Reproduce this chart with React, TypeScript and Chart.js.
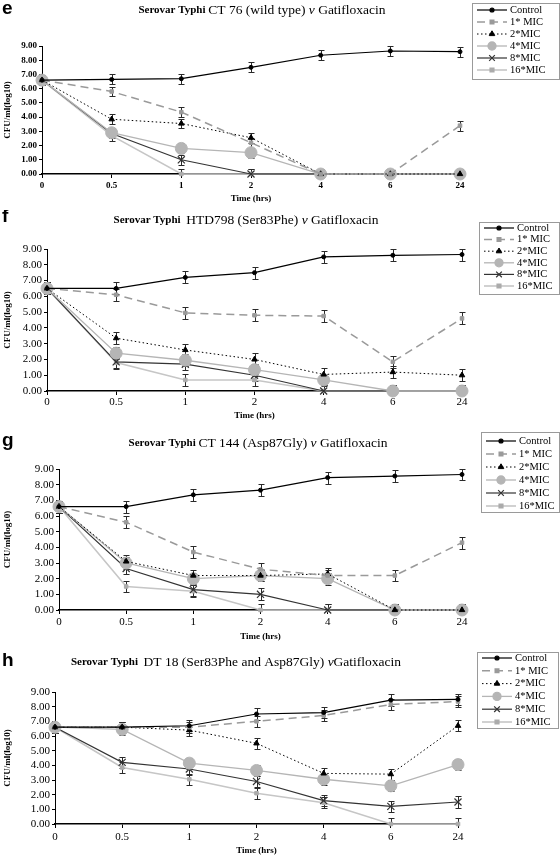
import React, { useEffect, useRef } from 'react';
import { Chart, registerables } from 'chart.js';
import { drawPoint } from 'chart.js/helpers';

Chart.register(...registerables);

// ---------- data ----------
const TIME_LABELS = ['0', '0.5', '1', '2', '4', '6', '24'];
const SERIES_LABELS = ['Control', '1* MIC', '2*MIC', '4*MIC', '8*MIC', '16*MIC'];
const Y_MIN = 0;
const Y_MAX = 9;

const E_CONTROL = [6.6, 6.65, 6.7, 7.5, 8.35, 8.65, 8.6];
const E_MIC1 = [6.6, 5.8, 4.35, 2.2, 0, 0, 3.4];
const E_MIC2 = [6.6, 3.85, 3.55, 2.55, 0, 0, 0];
const E_MIC4 = [6.6, 2.9, 1.8, 1.5, 0, 0, 0];
const E_MIC8 = [6.6, 2.85, 1.0, 0, 0, 0, 0];
const E_MIC16 = [6.6, 2.7, 0, 0, 0, 0, 0];
const E_ERR = 0.35;

const F_CONTROL = [6.5, 6.5, 7.2, 7.5, 8.5, 8.6, 8.65];
const F_MIC1 = [6.5, 6.1, 4.95, 4.8, 4.75, 1.85, 4.6];
const F_MIC2 = [6.5, 3.35, 2.6, 2.0, 1.05, 1.2, 1.0];
const F_MIC4 = [6.5, 2.4, 1.95, 1.35, 0.7, 0, 0];
const F_MIC8 = [6.5, 1.85, 1.7, 1.0, 0, 0, 0];
const F_MIC16 = [6.5, 1.8, 0.7, 0.7, 0, 0, 0];
const F_ERR = 0.38;

const G_CONTROL = [6.6, 6.6, 7.35, 7.65, 8.45, 8.55, 8.65];
const G_MIC1 = [6.6, 5.6, 3.7, 2.6, 2.2, 2.2, 4.3];
const G_MIC2 = [6.6, 3.1, 2.2, 2.2, 2.3, 0, 0];
const G_MIC4 = [6.6, 3.0, 2.0, 2.2, 2.0, 0, 0];
const G_MIC8 = [6.6, 2.65, 1.3, 1.0, 0, 0, 0];
const G_MIC16 = [6.6, 1.5, 1.2, 0, 0, 0, 0];
const G_ERR = 0.38;

const H_CONTROL = [6.6, 6.6, 6.7, 7.5, 7.6, 8.45, 8.5];
const H_MIC1 = [6.6, 6.6, 6.6, 7.0, 7.4, 8.15, 8.35];
const H_MIC2 = [6.6, 6.6, 6.4, 5.5, 3.45, 3.4, 6.7];
const H_MIC4 = [6.6, 6.45, 4.15, 3.65, 3.05, 2.6, 4.05];
const H_MIC8 = [6.6, 4.2, 3.75, 2.9, 1.6, 1.2, 1.5];
const H_MIC16 = [6.6, 3.85, 3.05, 2.1, 1.45, 0, 0];
const H_ERR = 0.38;

const E_TITLE = ['Serovar Typhi ', 'CT 76 (wild type) ', 'v', ' Gatifloxacin'];
const F_TITLE = ['Serovar Typhi  ', 'HTD798 (Ser83Phe) ', 'v', ' Gatifloxacin'];
const G_TITLE = ['Serovar Typhi ', 'CT 144 (Asp87Gly) ', 'v', ' Gatifloxacin'];
const H_TITLE = ['Serovar Typhi  ', 'DT 18 (Ser83Phe and Asp87Gly) ', 'v', 'Gatifloxacin'];

const X_TITLE = 'Time (hrs)';
const Y_TITLE = 'CFU/ml(log10)';

// ---------- styles ----------
const SERIF = "'Liberation Serif', 'DejaVu Serif', serif";
const SANS = "'Liberation Sans', Arial, sans-serif";

const SERIES_STYLE = [
  { color: '#000000', dash: [], width: 1.2, point: 'circle', radius: 2, fill: '#000000' },
  { color: '#9a9a9a', dash: [8, 5], width: 1.5, point: 'rect', radius: 2.5, fill: '#9a9a9a' },
  { color: '#000000', dash: [1.5, 2.5], width: 1, point: 'triangle', radius: 3.2, fill: '#000000' },
  { color: '#b5b5b5', dash: [], width: 1.3, point: 'circle', radius: 6, fill: '#b5b5b5' },
  { color: '#333333', dash: [], width: 1.2, point: 'crossRot', radius: 5, fill: '#333333' },
  { color: '#c6c6c6', dash: [], width: 1.6, point: 'rect', radius: 2.5, fill: '#ababab' },
];

type PanelCfg = {
  letter: string;
  series: number[][];
  err: number;
  title: string[];
  top: number;
  height: number;
  area: { left: number; right: number; top: number; bottom: number };
  titleX: number;
  titleY: number;
  letterY: number;
  xTitleY: number;
  legend: { left: number; right: number; top: number; bottom: number; y0: number; step: number };
  tickFont: { size: number; weight: string };
  tickPad: number;
};

const PANELS: PanelCfg[] = [
  {
    letter: 'e',
    series: [E_CONTROL, E_MIC1, E_MIC2, E_MIC4, E_MIC8, E_MIC16],
    err: E_ERR,
    title: E_TITLE,
    top: 0,
    height: 210,
    area: { left: 42, right: 460, top: 46, bottom: 174 },
    titleX: 262,
    titleY: 10,
    letterY: 9,
    xTitleY: 199,
    legend: { left: 472, right: 559, top: 3, bottom: 79, y0: 10, step: 12 },
    tickFont: { size: 9, weight: 'bold' },
    tickPad: 2,
  },
  {
    letter: 'f',
    series: [F_CONTROL, F_MIC1, F_MIC2, F_MIC4, F_MIC8, F_MIC16],
    err: F_ERR,
    title: F_TITLE,
    top: 210,
    height: 218,
    area: { left: 47, right: 462, top: 249, bottom: 391 },
    titleX: 246,
    titleY: 220,
    letterY: 217,
    xTitleY: 416,
    legend: { left: 479, right: 559, top: 222, bottom: 294, y0: 228, step: 11.6 },
    tickFont: { size: 11, weight: 'normal' },
    tickPad: 1,
  },
  {
    letter: 'g',
    series: [G_CONTROL, G_MIC1, G_MIC2, G_MIC4, G_MIC8, G_MIC16],
    err: G_ERR,
    title: G_TITLE,
    top: 428,
    height: 217,
    area: { left: 59, right: 462, top: 469, bottom: 610 },
    titleX: 258,
    titleY: 443,
    letterY: 441,
    xTitleY: 637,
    legend: { left: 481, right: 559, top: 432, bottom: 512, y0: 441, step: 13 },
    tickFont: { size: 11, weight: 'normal' },
    tickPad: 2,
  },
  {
    letter: 'h',
    series: [H_CONTROL, H_MIC1, H_MIC2, H_MIC4, H_MIC8, H_MIC16],
    err: H_ERR,
    title: H_TITLE,
    top: 645,
    height: 211,
    area: { left: 55, right: 458, top: 692, bottom: 824 },
    titleX: 236,
    titleY: 662,
    letterY: 661,
    xTitleY: 851,
    legend: { left: 477, right: 558, top: 652, bottom: 728, y0: 658, step: 12.8 },
    tickFont: { size: 11, weight: 'normal' },
    tickPad: 3,
  },
];

// ---------- plugin ----------
const decorPlugin = {
  id: 'decor',
  beforeDatasetsDraw(chart: any, _args: any, o: any) {
    const ctx = chart.ctx;
    const ys = chart.scales.y;
    const a = chart.chartArea;
    ctx.save();
    ctx.beginPath();
    ctx.rect(a.left - 10, a.top - 12, a.right - a.left + 20, a.bottom - a.top + 12);
    ctx.clip();
    ctx.strokeStyle = '#2a2a2a';
    ctx.lineWidth = 1;
    ctx.setLineDash([]);
    chart.data.datasets.forEach((ds: any, i: number) => {
      const meta = chart.getDatasetMeta(i);
      meta.data.forEach((pt: any, j: number) => {
        const v = ds.data[j];
        const x = Math.round(pt.x) + 0.5;
        const t = Math.round(ys.getPixelForValue(v + o.err)) + 0.5;
        const b = Math.round(ys.getPixelForValue(v - o.err)) + 0.5;
        ctx.beginPath();
        ctx.moveTo(x, t);
        ctx.lineTo(x, b);
        ctx.moveTo(x - 3, t);
        ctx.lineTo(x + 3, t);
        ctx.moveTo(x - 3, b);
        ctx.lineTo(x + 3, b);
        ctx.stroke();
      });
    });
    ctx.restore();
  },
  afterDraw(chart: any, _args: any, o: any) {
    const ctx = chart.ctx;
    const a = chart.chartArea;
    const off = o.top;
    ctx.save();
    ctx.fillStyle = '#000';
    ctx.textBaseline = 'middle';

    // panel letter
    ctx.font = `bold 19px ${SANS}`;
    ctx.textAlign = 'left';
    ctx.fillText(o.letter, 2, o.letterY - off);

    // title (mixed fonts)
    const segFonts = [
      `bold 11px ${SERIF}`,
      `13.5px ${SERIF}`,
      `italic 13.5px ${SERIF}`,
      `13.5px ${SERIF}`,
    ];
    let total = 0;
    o.title.forEach((s: string, i: number) => {
      ctx.font = segFonts[i];
      total += ctx.measureText(s).width;
    });
    let x = o.titleX - total / 2;
    o.title.forEach((s: string, i: number) => {
      ctx.font = segFonts[i];
      ctx.fillText(s, x, o.titleY - off);
      x += ctx.measureText(s).width;
    });

    // axis titles
    ctx.font = `bold 9px ${SERIF}`;
    ctx.textAlign = 'center';
    ctx.fillText(X_TITLE, (a.left + a.right) / 2, o.xTitleY - off);
    ctx.save();
    ctx.translate(8, (a.top + a.bottom) / 2);
    ctx.rotate(-Math.PI / 2);
    ctx.fillText(Y_TITLE, 0, 0);
    ctx.restore();

    // legend box
    const L = o.legend;
    ctx.strokeStyle = '#9a9a9a';
    ctx.lineWidth = 1;
    ctx.strokeRect(L.left + 0.5, L.top - off + 0.5, L.right - L.left, L.bottom - L.top);
    chart.data.datasets.forEach((ds: any, i: number) => {
      const y = L.y0 - off + i * L.step;
      const x0 = L.left + 5;
      const x1 = L.left + 35;
      ctx.save();
      ctx.strokeStyle = ds.borderColor;
      ctx.lineWidth = ds.borderWidth;
      ctx.setLineDash(ds.borderDash || []);
      ctx.beginPath();
      ctx.moveTo(x0, y);
      ctx.lineTo(x1, y);
      ctx.stroke();
      ctx.setLineDash([]);
      ctx.fillStyle = ds.pointBackgroundColor;
      ctx.strokeStyle = ds.pointBorderColor;
      drawPoint(ctx, {
        pointStyle: ds.pointStyle,
        radius: Math.min(ds.pointRadius, 4),
        rotation: 0,
        borderWidth: ds.pointBorderWidth,
      }, (x0 + x1) / 2, y);
      ctx.restore();
      ctx.fillStyle = '#000';
      ctx.font = `10.5px ${SERIF}`;
      ctx.textAlign = 'left';
      ctx.fillText(ds.label, x1 + 3, y);
    });
    ctx.restore();
  },
};

function Panel({ cfg }: { cfg: PanelCfg }) {
  const ref = useRef<HTMLCanvasElement | null>(null);
  useEffect(() => {
    if (!ref.current) return;
    const relTop = cfg.area.top - cfg.top;
    const relBottom = cfg.area.bottom - cfg.top;
    const tickFont = { family: SERIF, size: cfg.tickFont.size, weight: cfg.tickFont.weight as any };
    const chart = new Chart(ref.current, {
      type: 'line',
      data: {
        labels: TIME_LABELS,
        datasets: cfg.series.map((d, i) => {
          const s = SERIES_STYLE[i];
          return {
            label: SERIES_LABELS[i],
            data: d,
            borderColor: s.color,
            borderWidth: s.width,
            borderDash: s.dash,
            pointStyle: s.point as any,
            pointRadius: s.radius,
            pointBackgroundColor: s.fill,
            pointBorderColor: s.fill,
            pointBorderWidth: s.point === 'crossRot' ? 1.2 : 1,
            tension: 0,
            fill: false,
            clip: false as any,
          };
        }),
      },
      options: {
        animation: false,
        responsive: false,
        devicePixelRatio: 1,
        layout: {
          padding: { left: 0, top: relTop, right: 560 - cfg.area.right, bottom: 0 },
        },
        plugins: {
          legend: { display: false },
          title: { display: false },
          tooltip: { enabled: false },
          decor: {
            letter: cfg.letter,
            top: cfg.top,
            err: cfg.err,
            title: cfg.title,
            titleX: cfg.titleX,
            titleY: cfg.titleY,
            letterY: cfg.letterY,
            xTitleY: cfg.xTitleY,
            legend: cfg.legend,
          },
        } as any,
        scales: {
          x: {
            type: 'category',
            offset: false,
            grid: { drawOnChartArea: false, drawTicks: true, tickLength: 4, color: '#000' },
            border: { display: true, color: '#000', width: 1.5 },
            ticks: {
              color: '#000',
              font: tickFont,
              padding: cfg.tickPad,
              maxRotation: 0,
              autoSkip: false,
            },
            afterFit: (s: any) => {
              s.height = cfg.height - relBottom;
            },
          },
          y: {
            min: Y_MIN,
            max: Y_MAX,
            grid: { drawOnChartArea: false, drawTicks: true, tickLength: 3, color: '#000' },
            border: { display: true, color: '#000', width: 1 },
            ticks: {
              stepSize: 1,
              autoSkip: false,
              color: '#000',
              font: tickFont,
              padding: 2,
              callback: (v: any) => Number(v).toFixed(2),
            },
            afterFit: (s: any) => {
              s.width = cfg.area.left;
            },
          },
        },
      },
      plugins: [decorPlugin],
    });
    return () => chart.destroy();
  }, [cfg]);
  return (
    <canvas
      ref={ref}
      width={560}
      height={cfg.height}
      style={{ position: 'absolute', left: 0, top: cfg.top, width: 560, height: cfg.height }}
    />
  );
}

export default function App() {
  return (
    <div style={{ position: 'absolute', left: 0, top: 0, width: 560, height: 856, background: '#fff', overflow: 'hidden' }}>
      {PANELS.map((p) => (
        <Panel key={p.letter} cfg={p} />
      ))}
    </div>
  );
}
